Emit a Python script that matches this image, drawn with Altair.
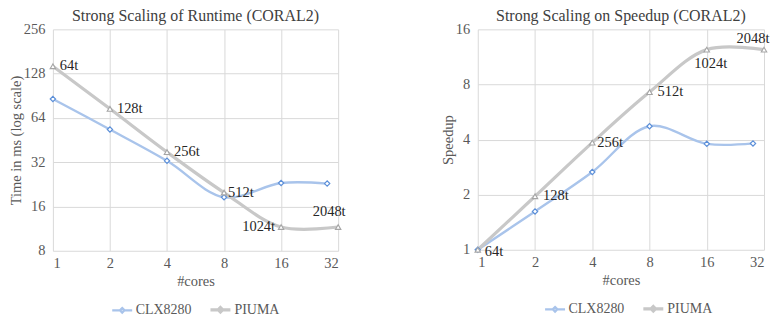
import altair as alt
import pandas as pd

cores_clx = [1, 2, 4, 8, 16, 28]
cores_piuma = [1, 2, 4, 8, 16, 32]
time_clx = [86, 53.4, 32.7, 18.5, 23.1, 22.9]
time_piuma = [143.6, 73.8, 37.5, 19.9, 11.6, 11.6]
speed_clx = [1, 1.62, 2.66, 4.73, 3.79, 3.81]
speed_piuma = [1, 1.96, 3.85, 7.27, 12.4, 12.4]
threads = ["64t", "128t", "256t", "512t", "1024t", "2048t"]
series = ["CLX8280", "PIUMA"]

rows = []
for c, t, s in zip(cores_clx, time_clx, speed_clx):
    rows.append({"series": "CLX8280", "cores": c, "time": t, "speed": s, "label": ""})
for c, t, s, l in zip(cores_piuma, time_piuma, speed_piuma, threads):
    rows.append({"series": "PIUMA", "cores": c, "time": t, "speed": s, "label": l})
df = pd.DataFrame(rows)

FONT = "Liberation Serif"
GRID = "#D9D9D9"
TXT = "#595959"
LINE_COLORS = ["#A9C4EB", "#C8C8C8"]
MARK_COLORS = {"CLX8280": "#5B8FD9", "PIUMA": "#A5A5A5"}
LEG_PATH = "M-1,0L-0.22,0M0.22,0L1,0M0,-0.22L0.22,0L0,0.22L-0.22,0Z"


def panel(field, ytitle, ydom, yticks, title, w, h, legx, label_specs):
    base = alt.Chart(df)
    x = alt.X("cores:Q", scale=alt.Scale(type="log", base=2, domain=[1, 32], nice=False),
              axis=alt.Axis(values=[1, 2, 4, 8, 16, 32], title="#cores", format="d"))
    y = alt.Y(f"{field}:Q", scale=alt.Scale(type="log", base=2, domain=ydom, nice=False),
              axis=alt.Axis(values=yticks, title=ytitle, format="d"))
    line = base.mark_line(interpolate="catmull-rom").encode(
        x=x, y=y,
        color=alt.Color("series:N", scale=alt.Scale(domain=series, range=LINE_COLORS),
                        legend=alt.Legend(title=None, orient="none", direction="horizontal",
                                          legendX=legx, legendY=h + 47,
                                          symbolType=LEG_PATH, symbolSize=400,
                                          symbolStrokeWidth=2.5, labelFont=FONT,
                                          labelFontSize=14, labelColor=TXT,
                                          labelOffset=2, columnPadding=12)),
        strokeWidth=alt.StrokeWidth("series:N", scale=alt.Scale(domain=series, range=[2.4, 3.2]),
                                    legend=None),
    )
    pts_clx = base.transform_filter(alt.datum.series == "CLX8280").mark_point(
        shape="diamond", filled=False, fill="white", size=28, strokeWidth=1.2,
        color=MARK_COLORS["CLX8280"], opacity=1).encode(x=x, y=y)
    pts_p = base.transform_filter(alt.datum.series == "PIUMA").mark_point(
        shape="triangle-up", filled=False, fill="white", size=30, strokeWidth=1.1,
        color=MARK_COLORS["PIUMA"], opacity=1).encode(x=x, y=y)
    layers = [line, pts_clx, pts_p]
    for labs, align, dx, dy in label_specs:
        t = base.transform_filter(alt.FieldOneOfPredicate(field="label", oneOf=labs)).mark_text(
            align=align, baseline="middle", dx=dx, dy=dy, font=FONT, fontSize=14.5,
            color="#262626").encode(x=x, y=y, text="label:N")
        layers.append(t)
    return alt.layer(*layers).properties(
        width=w, height=h,
        title=alt.TitleParams(title, font=FONT, fontSize=16, fontWeight="normal",
                              color="#404040", offset=-3))


left = panel("time", "Time in ms (log scale)", [8, 256], [8, 16, 32, 64, 128, 256],
             "Strong Scaling of Runtime (CORAL2)", 286, 222, 58,
             [(["64t", "128t", "256t"], "left", 7, 0),
              (["512t"], "left", 4, 0),
              (["1024t"], "right", -6, 0),
              (["2048t"], "center", -9, -15)])
right = panel("speed", "Speedup", [1, 16], [1, 2, 4, 8, 16],
              "Strong Scaling on Speedup (CORAL2)", 287, 221, 66,
              [(["64t"], "left", 7, 2),
               (["128t", "512t"], "left", 8, 0),
               (["256t"], "left", 5, 0),
               (["1024t"], "center", 4, 14),
               (["2048t"], "center", -11, -11)])

chart = alt.hconcat(left, right, spacing=94).resolve_scale(
    color="independent", strokeWidth="independent", y="independent"
).resolve_legend(color="independent").configure_axis(
    grid=True, gridColor=GRID, domain=False, ticks=False,
    labelFont=FONT, labelFontSize=14.5, labelColor=TXT, labelPadding=8,
    titleFont=FONT, titleFontSize=14.5, titleColor=TXT, titleFontWeight="normal",
    titlePadding=0,
).configure_axisX(labelPadding=6, titlePadding=4).configure_view(stroke=None).properties(
    padding={"left": 0, "top": 0, "right": 0, "bottom": 0})

chart.save("out.html", embed_options={"renderer": "svg", "actions": False})
